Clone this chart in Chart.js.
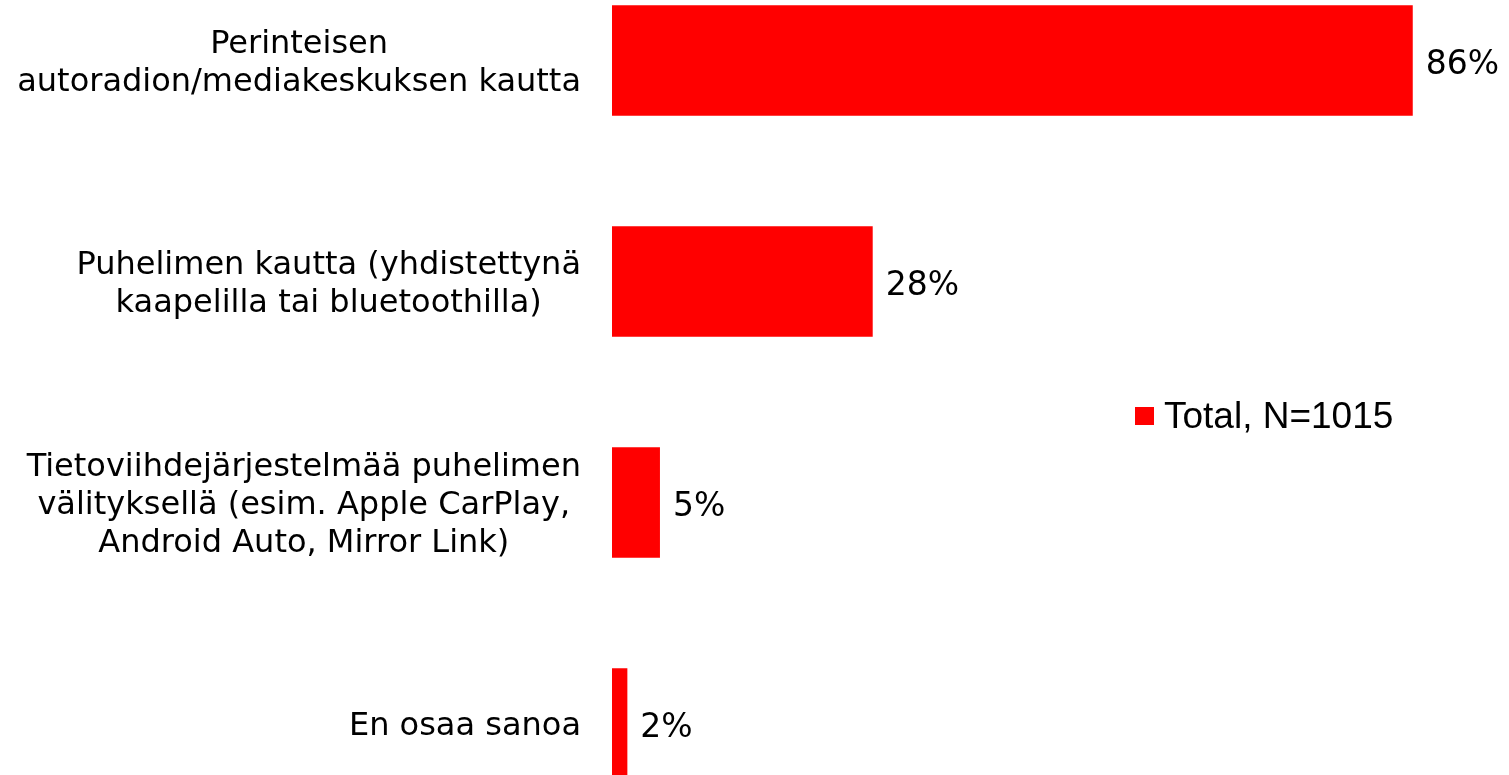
<!DOCTYPE html>
<html>
<head>
<meta charset="utf-8">
<script src="https://cdn.jsdelivr.net/npm/chart.js@4/dist/chart.umd.min.js"></script>
<style>
  html, body { margin: 0; padding: 0; background: #ffffff; }
  #wrap { position: relative; width: 1509px; height: 775px; overflow: hidden; }
  #box { position: absolute; left: 0; top: -50px; width: 1509px; height: 884px; }
</style>
</head>
<body>
<div id="wrap"><div id="box"><canvas id="c"></canvas></div></div>
<script>
const categories = [
  ["Perinteisen", "autoradion/mediakeskuksen kautta"],
  ["Puhelimen kautta (yhdistettynä", "kaapelilla tai bluetoothilla)"],
  ["Tietoviihdejärjestelmää puhelimen", "välityksellä (esim. Apple CarPlay,", "Android Auto, Mirror Link)"],
  ["En osaa sanoa"]
];
const totalValues = [86, 28, 5.15, 1.65];
const seriesName = "Total, N=1015";
const barColor = "#ff0000";

const labelSize = 32;
const valueSize = 33;
const labelFont = labelSize + 'px "DejaVu Sans", Verdana, sans-serif';
const valueFont = valueSize + 'px "DejaVu Sans", Verdana, sans-serif';
const legendFont = '37px "Liberation Sans", Arial, sans-serif';

const textPlugin = {
  id: 'textPlugin',
  afterDatasetsDraw(chart) {
    const ctx = chart.ctx;
    const y = chart.scales.y;
    const meta = chart.getDatasetMeta(0);
    ctx.save();
    ctx.fillStyle = '#000000';
    ctx.font = labelFont;
    ctx.textBaseline = 'alphabetic';
    const capHalf = labelSize * 0.729 / 2;
    const lineH = 38;
    const rightEdge = chart.chartArea.left - 31;
    categories.forEach((lines, i) => {
      const cy = y.getPixelForTick(i);
      let maxW = 0;
      lines.forEach(l => { maxW = Math.max(maxW, ctx.measureText(l).width); });
      const cx = rightEdge - maxW / 2;
      ctx.textAlign = 'center';
      const n = lines.length;
      lines.forEach((l, k) => {
        const lc = cy + (k - (n - 1) / 2) * lineH;
        ctx.fillText(l, cx, lc + capHalf);
      });
    });
    ctx.font = valueFont;
    ctx.textAlign = 'left';
    const vHalf = valueSize * 0.729 / 2;
    meta.data.forEach((bar, i) => {
      const txt = Math.round(totalValues[i]) + '%';
      ctx.fillText(txt, bar.x + 13, bar.y + vHalf + 1);
    });
    ctx.fillStyle = barColor;
    ctx.fillRect(1135, 407 + 50, 19, 18);
    ctx.fillStyle = '#000000';
    ctx.font = legendFont;
    ctx.fillText(seriesName, 1164, 428 + 50);
    ctx.restore();
  }
};

new Chart(document.getElementById('c'), {
  type: 'bar',
  data: {
    labels: categories,
    datasets: [{
      label: seriesName,
      data: totalValues,
      backgroundColor: barColor,
      borderWidth: 0,
      barPercentage: 1,
      categoryPercentage: 0.5
    }]
  },
  options: {
    indexAxis: 'y',
    responsive: true,
    maintainAspectRatio: false,
    animation: false,
    layout: { padding: { left: 612, right: 59, top: 0, bottom: 0 } },
    scales: {
      x: { display: false, min: 0, max: 90 },
      y: { display: false }
    },
    plugins: {
      legend: { display: false },
      tooltip: { enabled: false }
    }
  },
  plugins: [textPlugin]
});
</script>
</body>
</html>
